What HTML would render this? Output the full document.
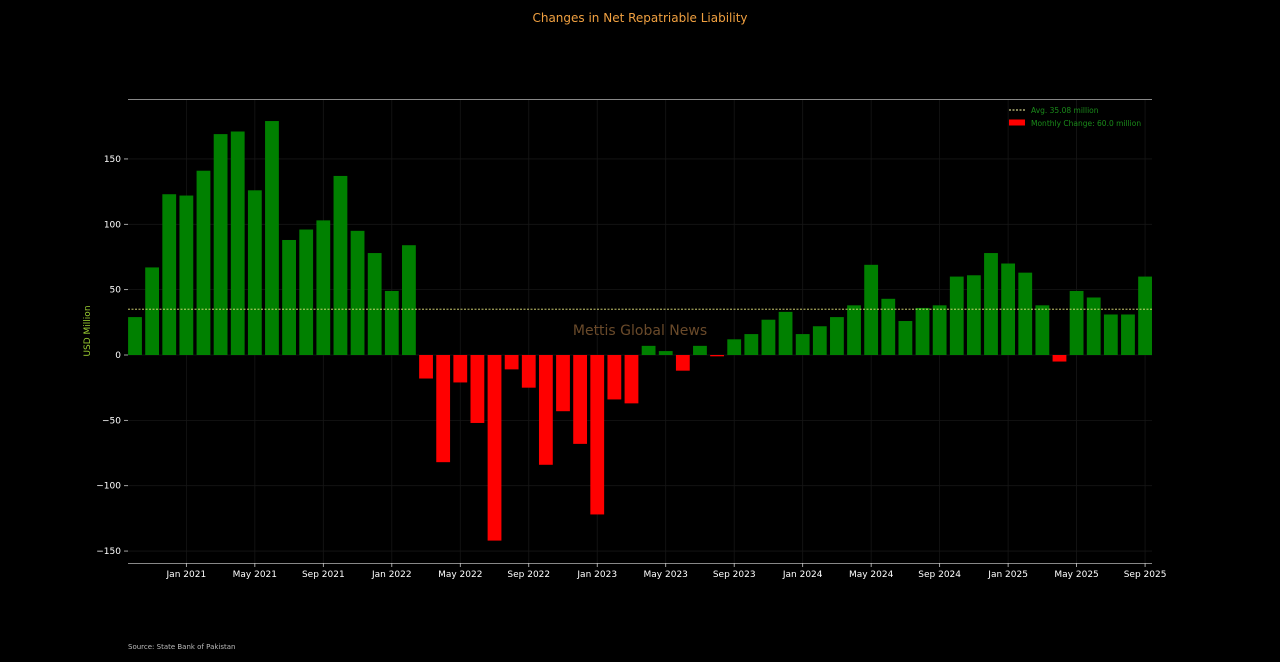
<!DOCTYPE html>
<html><head><meta charset="utf-8">
<style>
html,body{margin:0;padding:0;background:#000;width:1280px;height:662px;overflow:hidden}
text{font-family:"DejaVu Sans","Liberation Sans",sans-serif}
</style></head>
<body>
<svg id="s" width="1280" height="662" xmlns="http://www.w3.org/2000/svg">
<rect width="1280" height="662" fill="#000"/>
<text x="640" y="22" fill="#f0a040" font-size="12" text-anchor="middle">Changes in Net Repatriable Liability</text>
<g id="grid"></g>
<g id="bars"></g>
<line x1="128" y1="309.2" x2="1152" y2="309.2" stroke="#e8e880" stroke-width="0.8" stroke-dasharray="2,1.5"/>
<line x1="128" y1="99.5" x2="1152" y2="99.5" stroke="#888" stroke-width="1"/>
<line x1="128" y1="563.5" x2="1152" y2="563.5" stroke="#888" stroke-width="1"/>
<text x="640" y="335" fill="#6a4a2a" font-size="14" text-anchor="middle">Mettis Global News</text>
<text x="90" y="331" fill="#9acd32" font-size="9" text-anchor="middle" transform="rotate(-90 90 331)">USD Million</text>
<line x1="1009" y1="110" x2="1025" y2="110" stroke="#ffffaa" stroke-width="1" stroke-dasharray="2,1.5"/>
<text x="1031" y="113" fill="#1a8a1a" font-size="7.5">Avg. 35.08 million</text>
<rect x="1009" y="119.5" width="16" height="6" fill="#ff0000"/>
<text x="1031" y="126" fill="#1a8a1a" font-size="7.5">Monthly Change: 60.0 million</text>
<text x="128" y="649" fill="#bbb" font-size="7">Source: State Bank of Pakistan</text>
<g id="ticks"></g>
</svg>
<script>
var v=[29,67,123,122,141,169,171,126,179,88,96,103,137,95,78,49,84,-18,-82,-21,-52,-142,-11,-25,-84,-43,-68,-122,-34,-37,7,3,-12,7,-1,12,16,27,33,16,22,29,38,69,43,26,36,38,60,61,78,70,63,38,-5,49,44,31,31,60];
var ns="http://www.w3.org/2000/svg",k=1.307,z=355,dx=17.12,x0=135;
function el(t,a,p,txt){var e=document.createElementNS(ns,t);for(var q in a)e.setAttribute(q,a[q]);if(txt)e.textContent=txt;document.getElementById(p).appendChild(e);}
for(var i=0;i<v.length;i++){var c=x0+i*dx,h=Math.abs(v[i])*k;
el('rect',{x:c-6.9,y:v[i]>=0?z-h:z,width:13.8,height:Math.max(h,1),fill:v[i]>=0?'#008000':'#ff0000'},'bars');}
[150,100,50,0,-50,-100,-150].forEach(function(t){var y=z-t*k;
el('line',{x1:128,x2:1152,y1:y,y2:y,stroke:'#161616','stroke-width':0.8},'grid');
el('line',{x1:124,x2:128,y1:y,y2:y,stroke:'#ccc','stroke-width':0.8},'ticks');
el('text',{x:121,y:y+3,fill:'#fff','font-size':9,'text-anchor':'end'},'ticks',(t<0?'\u2212':'')+Math.abs(t));});
var lab=['Jan 2021','May 2021','Sep 2021','Jan 2022','May 2022','Sep 2022','Jan 2023','May 2023','Sep 2023','Jan 2024','May 2024','Sep 2024','Jan 2025','May 2025','Sep 2025'];
lab.forEach(function(l,j){var x=x0+(3+4*j)*dx;
el('line',{x1:x,x2:x,y1:99,y2:563,stroke:'#161616','stroke-width':0.8},'grid');
el('line',{x1:x,x2:x,y1:563,y2:567,stroke:'#ccc','stroke-width':0.8},'ticks');
el('text',{x:x,y:577,fill:'#fff','font-size':9,'text-anchor':'middle'},'ticks',l);});
</script>
</body></html>
